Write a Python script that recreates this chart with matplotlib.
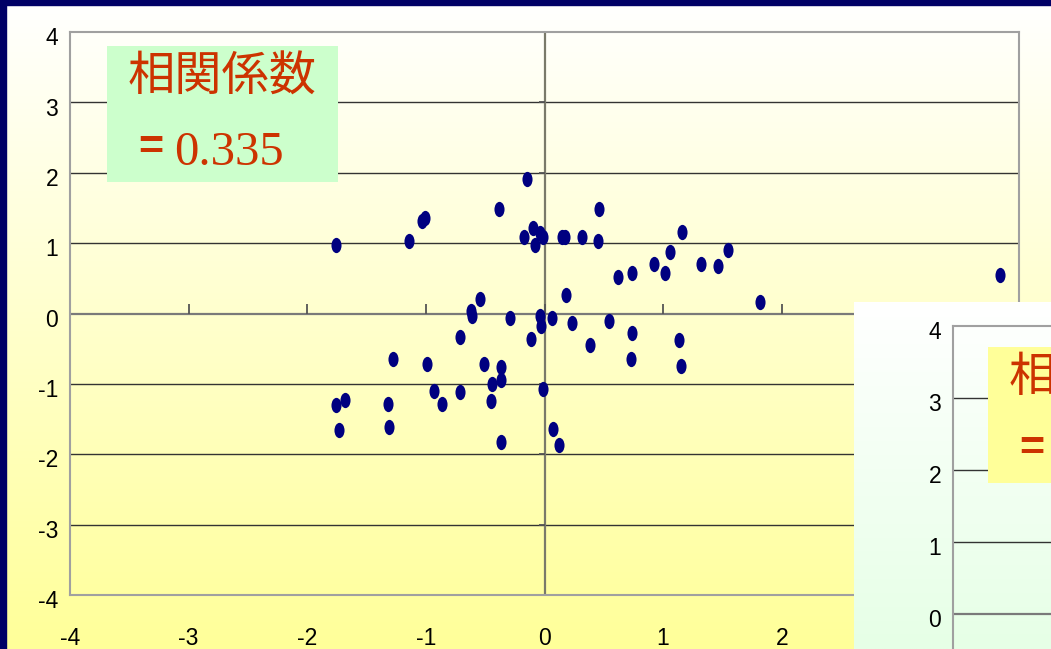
import matplotlib
matplotlib.use('Agg')
import matplotlib.pyplot as plt
import matplotlib.transforms as mtransforms
import numpy as np
from matplotlib.patches import Rectangle
from matplotlib.path import Path
from matplotlib.colors import LinearSegmentedColormap

plt.rcParams['axes.unicode_minus'] = False

# scatter data
x_vals = [-1.76, -1.14, -1.03, -1.01, -0.15, -0.38, -0.17, -0.10, -0.08, -0.04,
          -0.01, 0.15, 0.17, 0.32, 0.46, 0.45, 0.62, 0.74, 0.92, 1.02,
          1.06, 1.16, 1.32, 1.46, 1.55, 1.82, 3.84, 0.18, -0.54, -0.62,
          -0.61, -0.29, -0.04, -0.03, 0.06, 0.23, 0.54, 0.74, -0.71, -0.11,
          0.38, 1.13, 0.73, 1.15, -1.28, -0.99, -0.51, -0.37, -0.37, -0.44,
          -0.93, -0.86, -0.71, -0.45, -0.01, -1.76, -1.68, -1.73, -1.32, -1.31,
          -0.37, 0.07, 0.12]
y_vals = [0.98, 1.03, 1.32, 1.35, 1.91, 1.49, 1.09, 1.21, 0.98, 1.15,
          1.08, 1.09, 1.08, 1.09, 1.49, 1.03, 0.52, 0.57, 0.70, 0.57,
          0.87, 1.16, 0.70, 0.67, 0.90, 0.16, 0.54, 0.26, 0.21, 0.03,
          -0.03, -0.07, -0.04, -0.18, -0.06, -0.14, -0.10, -0.27, -0.33, -0.36,
          -0.45, -0.38, -0.64, -0.74, -0.64, -0.72, -0.72, -0.76, -0.94, -1.00,
          -1.10, -1.28, -1.12, -1.25, -1.07, -1.30, -1.23, -1.66, -1.28, -1.61,
          -1.82, -1.64, -1.87]
corr_label = '相関係数'
corr_value = '0.335'
ticks = np.arange(-4, 5)

W, H = 1051, 649
fig = plt.figure(figsize=(W / 100, H / 100), dpi=100)


def fx(px):
    return px / W


def fy(py):
    return 1 - py / H


def gradient_panel(rect, c_top, c_bottom, z):
    a = fig.add_axes(rect, zorder=z)
    cmap = LinearSegmentedColormap.from_list('g', [c_top, c_bottom])
    a.imshow(np.linspace(0, 1, 256).reshape(-1, 1), aspect='auto', cmap=cmap,
             extent=[0, 1, 0, 1], origin='upper')
    a.set_xlim(0, 1)
    a.set_ylim(0, 1)
    a.axis('off')
    return a


def style_chart(a, ylab_pad, show_x=True):
    a.patch.set_alpha(0)
    a.set_xlim(-4, 4)
    a.set_ylim(-4, 4)
    for s in a.spines.values():
        s.set_color('#A0A0A0')
        s.set_linewidth(1.5)
    a.set_xticks(ticks)
    a.set_yticks(ticks)
    a.tick_params(axis='both', length=0, labelsize=16.5)
    a.tick_params(axis='x', pad=23, labelbottom=show_x)
    a.tick_params(axis='y', pad=ylab_pad)
    shift = mtransforms.ScaledTranslation(0, -3 / 72, fig.dpi_scale_trans)
    for lab in a.get_yticklabels():
        lab.set_transform(lab.get_transform() + shift)
    for lab in a.get_xticklabels() + a.get_yticklabels():
        lab.set_family('Liberation Sans')
    for yv in ticks[1:-1]:
        if yv != 0:
            a.axhline(yv, color='#333333', lw=1.0, zorder=1)
    a.axhline(0, color='#7A7A7A', lw=1.6, zorder=1.5)
    a.axvline(0, color='#7A7A6A', lw=1.6, zorder=1.5)
    a.plot(ticks, np.zeros(len(ticks)), ls='none', marker=2, ms=7, mew=1.3,
           color='#555555', zorder=1.6, clip_on=False)
    a.plot(np.zeros(len(ticks) - 2), ticks[1:-1], ls='none', marker=0, ms=4,
           mew=1.3, color='#555555', zorder=1.6)


def corr_box(a, left, top, face, value):
    a.add_patch(Rectangle((fx(left), fy(top + 136)), 231 / W, 136 / H,
                          transform=fig.transFigure, facecolor=face,
                          edgecolor='none', zorder=4, clip_on=False))
    a.text(fx(left + 21), fy(top + 31), corr_label, transform=fig.transFigure,
           family='Noto Sans CJK JP', fontsize=34, color='#CC3300',
           ha='left', va='center', zorder=5, clip_on=False)
    a.text(fx(left + 31), fy(top + 102), '=', transform=fig.transFigure,
           family='Liberation Sans', fontsize=31, fontweight='bold',
           color='#CC3300', ha='left', va='center', zorder=5, clip_on=False)
    if value:
        a.text(fx(left + 67), fy(top + 119), value, transform=fig.transFigure,
               family='Liberation Serif', fontsize=35, color='#CC3300',
               ha='left', va='baseline', zorder=5, clip_on=False)


# page background and frame
bg = gradient_panel([0, 0, 1, 1], '#FFFFFF', '#FFFF99', 0)
bg.add_patch(Rectangle((0, fy(5)), 1, 5 / H, color='#000066',
                       transform=bg.transAxes, zorder=3))
bg.add_patch(Rectangle((0, 0), 6 / W, 1, color='#000066',
                       transform=bg.transAxes, zorder=3))

# main chart
ax = fig.add_axes([fx(70), fy(595), 949 / W, 563 / H], zorder=1)
style_chart(ax, 8.5)
ellipse = Path(Path.unit_circle().vertices * [0.66, 1.0], Path.unit_circle().codes)
ax.scatter(x_vals, y_vals, marker=ellipse, s=121, color='#000080',
           linewidths=0, zorder=3)
corr_box(ax, 107, 46, '#CCFFCC', corr_value)

# second slide chart overlapping at the lower right (cut off by the frame)
gradient_panel([fx(854), 0, 1 - fx(854), fy(302)], '#FFFFFF', '#E6FFE6', 5)
ax2 = fig.add_axes([fx(953), fy(326 + 576), 949 / W, 576 / H], zorder=6)
style_chart(ax2, 8.5, show_x=False)
corr_box(ax2, 988, 347, '#FFFF99', '')

plt.savefig('out.png', dpi=100)
